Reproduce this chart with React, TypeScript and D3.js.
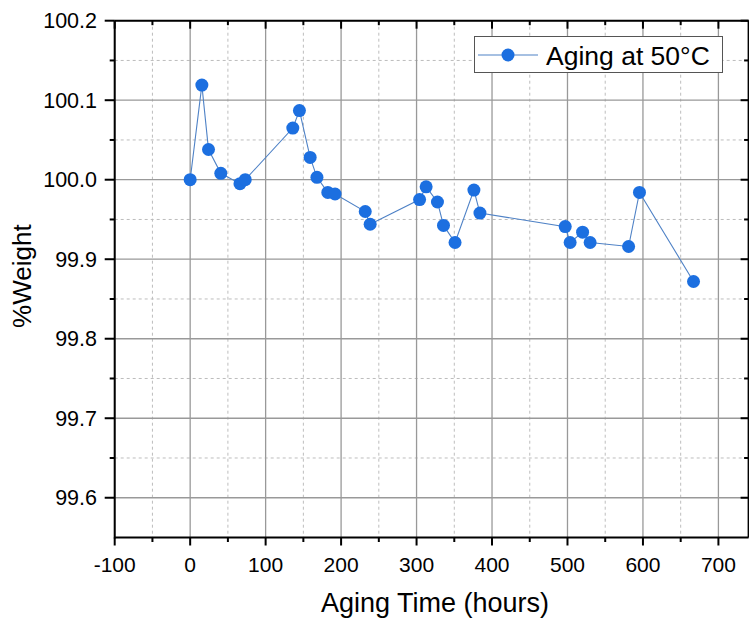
import React from "react";
import * as d3 from "d3";

const hours = [0, 15.5, 24.3, 40.6, 66, 73, 136, 144.8, 159, 168, 182.4, 192, 232, 238.5, 304, 312.7, 327.7, 335.7, 351, 376, 384, 497, 503.5, 520, 530, 581, 595.4, 667];
const weight = [100.0, 100.119, 100.038, 100.008, 99.995, 100.0, 100.065, 100.087, 100.028, 100.003, 99.984, 99.982, 99.96, 99.944, 99.975, 99.991, 99.972, 99.9425, 99.921, 99.987, 99.958, 99.941, 99.921, 99.934, 99.921, 99.916, 99.984, 99.872];
const xMajor = [-100, 0, 100, 200, 300, 400, 500, 600, 700];
const xMinor = [-50, 50, 150, 250, 350, 450, 550, 650];
const yMajor = [99.6, 99.7, 99.8, 99.9, 100.0, 100.1, 100.2];
const yMinor = [99.65, 99.75, 99.85, 99.95, 100.05, 100.15];
const seriesName = "Aging at 50°C";

const W = 749, H = 618;
const L = 114.7, R = 748.6, T = 20.7, B = 537.5;
const FONT = "Arial, 'Liberation Sans', sans-serif";
const DOT = "#1c6fe0";
const LINE = "#4f82c6";

export default function App() {
  const x = d3.scaleLinear().domain([-100, 740]).range([L, R]);
  const y = d3.scaleLinear().domain([99.55, 100.2]).range([B, T]);
  const pts = hours.map((h, i) => [h, weight[i]] as [number, number]);
  const line = d3.line<[number, number]>().x(d => x(d[0])).y(d => y(d[1]));
  const fmtY = d3.format(".1f");

  return (
    <svg width={W} height={H} style={{ position: "absolute", left: 0, top: 0, background: "#fff" }}>
      <rect x={0} y={0} width={W} height={H} fill="#fff" />
      {xMinor.map(v => (
        <line key={"xm" + v} x1={x(v)} x2={x(v)} y1={T} y2={B} stroke="#bdbdbd" strokeWidth={1} strokeDasharray="3,3" />
      ))}
      {yMinor.map(v => (
        <line key={"ym" + v} x1={L} x2={R} y1={y(v)} y2={y(v)} stroke="#bdbdbd" strokeWidth={1} strokeDasharray="3,3" />
      ))}
      {xMajor.map(v => (
        <line key={"xg" + v} x1={x(v)} x2={x(v)} y1={T} y2={B} stroke="#999" strokeWidth={1.3} />
      ))}
      {yMajor.map(v => (
        <line key={"yg" + v} x1={L} x2={R} y1={y(v)} y2={y(v)} stroke="#999" strokeWidth={1.3} />
      ))}
      <path d={line(pts) || ""} fill="none" stroke={LINE} strokeWidth={1.1} />
      {pts.map((p, i) => (
        <circle key={"p" + i} cx={x(p[0])} cy={y(p[1])} r={6.5} fill={DOT} />
      ))}
      <line x1={L} x2={R} y1={B} y2={B} stroke="#000" strokeWidth={2} />
      <line x1={L} x2={R} y1={T} y2={T} stroke="#000" strokeWidth={2} />
      <line x1={L} x2={L} y1={T} y2={B + 1} stroke="#000" strokeWidth={2} />
      <line x1={R} x2={R} y1={T} y2={B} stroke="#000" strokeWidth={2} />
      {xMajor.map(v => (
        <g key={"bt" + v}>
          <line x1={x(v)} x2={x(v)} y1={B} y2={B + 8} stroke="#000" strokeWidth={2} />
          <line x1={x(v)} x2={x(v)} y1={T} y2={T + 8} stroke="#000" strokeWidth={2} />
          <text x={x(v)} y={571.5} textAnchor="middle" fontFamily={FONT} fontSize={21} fill="#000">{v}</text>
        </g>
      ))}
      {xMinor.map(v => (
        <g key={"btm" + v}>
          <line x1={x(v)} x2={x(v)} y1={B} y2={B + 4.5} stroke="#000" strokeWidth={2} />
          <line x1={x(v)} x2={x(v)} y1={T} y2={T + 4.5} stroke="#000" strokeWidth={2} />
        </g>
      ))}
      {yMajor.map(v => (
        <g key={"lt" + v}>
          <line x1={L - 10} x2={L} y1={y(v)} y2={y(v)} stroke="#000" strokeWidth={2} />
          <line x1={R - 8} x2={R} y1={y(v)} y2={y(v)} stroke="#000" strokeWidth={2} />
          <text x={97} y={y(v) + 7.5} textAnchor="end" fontFamily={FONT} fontSize={21.5} fill="#000">{fmtY(v)}</text>
        </g>
      ))}
      {yMinor.map(v => (
        <g key={"ltm" + v}>
          <line x1={L - 5} x2={L} y1={y(v)} y2={y(v)} stroke="#000" strokeWidth={2} />
          <line x1={R - 4.5} x2={R} y1={y(v)} y2={y(v)} stroke="#000" strokeWidth={2} />
        </g>
      ))}
      <text x={435} y={611.5} textAnchor="middle" fontFamily={FONT} fontSize={27} fill="#000">Aging Time (hours)</text>
      <text transform={`translate(31,${(T + B) / 2 - 3}) rotate(-90)`} textAnchor="middle" fontFamily={FONT} fontSize={26} fill="#000">%Weight</text>
      <rect x={474.5} y={36.5} width={248} height={36} fill="#fff" stroke="#555" strokeWidth={1} />
      <line x1={478} x2={538} y1={55} y2={55} stroke={LINE} strokeWidth={1.1} />
      <circle cx={508} cy={55} r={6.5} fill={DOT} />
      <text x={546} y={64.5} fontFamily={FONT} fontSize={26.5} fill="#000">{seriesName}</text>
    </svg>
  );
}
